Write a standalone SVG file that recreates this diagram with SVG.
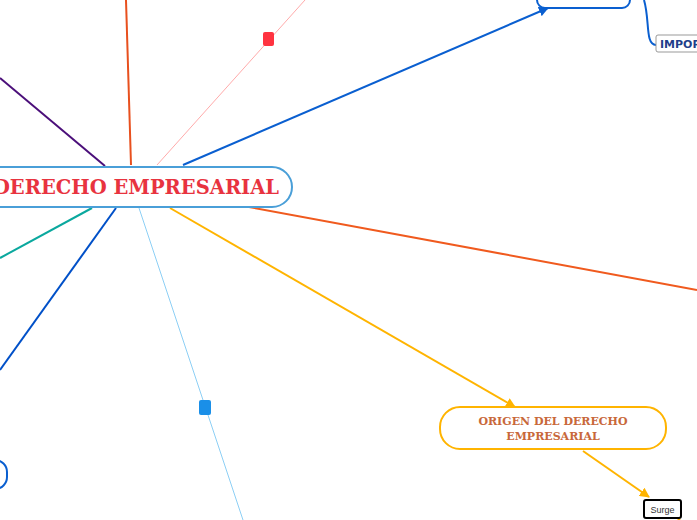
<svg xmlns="http://www.w3.org/2000/svg" width="697" height="520" viewBox="0 0 697 520">
<defs>
<style>
.c{fill:none;stroke-width:2}
.t{font-family:"DejaVu Serif","Liberation Serif",serif;font-weight:bold;text-anchor:middle}
</style>
<marker id="ab" viewBox="0 0 10 10" refX="9" refY="5" markerWidth="5" markerHeight="5" orient="auto"><path d="M0,0L10,5L0,10z" fill="#0a5fd0"/></marker>
<marker id="ay" viewBox="0 0 10 10" refX="9" refY="5" markerWidth="5" markerHeight="5" orient="auto"><path d="M0,0L10,5L0,10z" fill="#ffb400"/></marker>
</defs>
<rect width="697" height="520" fill="#fff"/>
<g id="connectors">
<path class="c" d="M131,165L126,0" stroke="#e8501e"/>
<path d="M157,165L305,0" stroke="#ffaaaa" stroke-width="1" fill="none"/>
<rect x="263" y="32" width="11" height="14" rx="2" fill="#ff3340"/>
<path class="c" d="M105,166L0,78" stroke="#4b0f7a"/>
<path class="c" d="M183,165L548,8" stroke="#0a5fd0" marker-end="url(#ab)"/>
<path class="c" d="M644,0C650,20 645,45 656,45" stroke="#0a5fd0"/>
<path class="c" d="M249,207L697,290" stroke="#f05a1e"/>
<path class="c" d="M92,208L0,258" stroke="#0aa89e"/>
<path class="c" d="M116,208L0,370" stroke="#0050c8"/>
<path d="M139,208L243,520" stroke="#8ccff5" stroke-width="1" fill="none"/>
<rect x="199" y="400" width="12" height="15" rx="2" fill="#1a8fe8"/>
<path class="c" d="M170,208L515,407" stroke="#ffb400" marker-end="url(#ay)"/>
<path class="c" d="M583,451L649,497" stroke="#ffb400" marker-end="url(#ay)"/>
<path class="c" d="M677,518L680,520" stroke="#ffb400"/>
</g>
<g id="center">
<rect x="-20" y="167" width="312" height="40" rx="20" fill="#fff" stroke="#4a9fd8" stroke-width="2"/>
<text class="t" x="136" y="194" font-size="19.5" fill="#e8333f">DERECHO EMPRESARIAL</text>
</g>
<g id="top-node">
<rect x="537" y="-20" width="93" height="28" rx="8" fill="#fff" stroke="#0a5fd0" stroke-width="2"/>
</g>
<g id="impor">
<rect x="656" y="35" width="50" height="17" rx="2" fill="#fff" stroke="#999" stroke-width="1"/>
<text x="660" y="48" font-family="DejaVu Sans,sans-serif" font-weight="bold" font-size="11" fill="#1f3f8a">IMPOR</text>
</g>
<g id="origen">
<rect x="440" y="407" width="226" height="42" rx="20" fill="#fff" stroke="#ffb400" stroke-width="2"/>
<text class="t" x="553" y="425" font-size="11" fill="#c8683a">ORIGEN DEL DERECHO</text>
<text class="t" x="553" y="440" font-size="11" fill="#c8683a">EMPRESARIAL</text>
</g>
<g id="surge">
<rect x="644" y="500" width="37" height="18" rx="2" fill="#fff" stroke="#000" stroke-width="2"/>
<text x="662.5" y="513" font-family="Liberation Sans,sans-serif" font-size="9" fill="#333" text-anchor="middle">Surge</text>
</g>
<g id="left-node">
<rect x="-40" y="460" width="47" height="29" rx="12" fill="#fff" stroke="#0a5fd0" stroke-width="2"/>
</g>
</svg>
